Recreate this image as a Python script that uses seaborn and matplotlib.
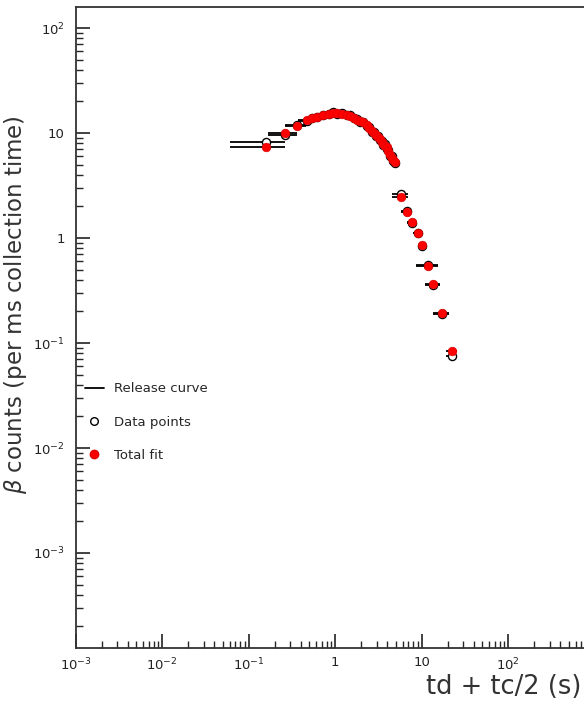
import seaborn as sns
import matplotlib.pyplot as plt
import matplotlib.ticker as mticker
from matplotlib.lines import Line2D
import pandas as pd
import numpy as np

# td + tc/2 (s)
td = [0.16, 0.265, 0.364, 0.467, 0.533, 0.61, 0.73, 0.85, 0.95, 1.05, 1.2, 1.35,
      1.48, 1.65, 1.8, 1.95, 2.11, 2.3, 2.45, 2.64, 2.8, 2.95, 3.1, 3.29, 3.45,
      3.6, 3.75, 3.93, 4.1, 4.3, 4.5, 4.7, 4.9, 5.7, 6.68, 7.76, 8.95, 9.97,
      11.9, 13.6, 17.0, 22.2]
# half width of each collection bin
half_bin = [0.1] * 33 + [1.15, 1.0, 1.05, 1.0, 1.0, 3.3, 2.8, 3.5, 3.0]
# total fit (red dots, also level of release curve)
fit = [7.3, 9.9, 11.7, 13.3, 13.8, 14.3, 14.8, 15.3, 15.6, 15.5, 15.2, 15.0,
       14.6, 14.0, 13.4, 13.0, 12.6, 11.8, 11.2, 10.5, 10.0, 9.5, 9.2, 8.7, 8.2,
       7.9, 7.6, 7.4, 6.7, 6.2, 5.8, 5.5, 5.3, 2.47, 1.78, 1.41, 1.11, 0.86,
       0.54, 0.365, 0.192, 0.083]
# measured data points (open circles)
counts = [8.2, 9.6, 11.9, 13.1, 14.0, 14.1, 15.0, 15.1, 15.8, 15.3, 15.4, 14.8,
          14.8, 13.8, 13.6, 12.8, 12.8, 11.6, 11.4, 10.3, 10.2, 9.3, 9.4, 8.5, 8.4,
          7.7, 7.8, 7.0, 6.9, 6.0, 6.0, 5.4, 5.2, 2.6, 1.8, 1.38, 1.12, 0.83,
          0.55, 0.36, 0.19, 0.075]

df = pd.DataFrame({"td": td, "half": half_bin, "fit": fit, "counts": counts})

sns.set_style("ticks")
plt.rcParams['font.family'] = ['DejaVu Sans']
plt.rcParams['mathtext.fontset'] = 'dejavusans'
plt.rcParams['xtick.direction'] = 'in'
plt.rcParams['ytick.direction'] = 'in'

W, H = 584, 701
fig = plt.figure(figsize=(W / 100, H / 100), dpi=100)
# axes runs a bit past the right edge like the original
x0, x1 = 75.8, 75.8 + 6 * 86.5
y_top, y_bot = 6.7, 648
ax = fig.add_axes([x0 / W, 1 - y_bot / H, (x1 - x0) / W, (y_bot - y_top) / H])

ax.set_xscale('log')
ax.set_yscale('log')

# release curve
ax.hlines(df["fit"], df["td"] - df["half"], df["td"] + df["half"],
          color='black', lw=1.3, zorder=2)
# data points with bin width
ax.errorbar(df["td"], df["counts"], xerr=df["half"], fmt='none',
            ecolor='black', elinewidth=1.3, capsize=0, zorder=3)
sns.scatterplot(data=df, x="td", y="counts", ax=ax, marker='o', s=34,
                facecolor='white', edgecolor='black', linewidth=1.0, zorder=4)
sns.scatterplot(data=df, x="td", y="fit", ax=ax, marker='o', s=38,
                color='#ff0000', edgecolor='#e00000', linewidth=0.5, zorder=5)

ax.set_xlim(1e-3, 1e3)
ax.set_ylim(10 ** (2 - (y_bot - 28) / 105), 10 ** (2 + (28 - y_top) / 105))


def fmt(v, pos):
    e = int(round(np.log10(v)))
    if e == 0:
        return "1"
    if e == 1:
        return "10"
    return r"$10^{%d}$" % e


ax.xaxis.set_major_locator(mticker.FixedLocator([1e-3, 1e-2, 1e-1, 1, 10, 100]))
ax.yaxis.set_major_locator(mticker.FixedLocator([1e-3, 1e-2, 1e-1, 1, 10, 100]))
for axis in (ax.xaxis, ax.yaxis):
    axis.set_minor_locator(mticker.LogLocator(base=10, subs=np.arange(2, 10), numticks=20))
    axis.set_major_formatter(mticker.FuncFormatter(fmt))
    axis.set_minor_formatter(mticker.NullFormatter())

ax.tick_params(axis='x', which='major', direction='in', length=10, width=1.2,
               labelsize=9.5, colors='#222222', pad=6, bottom=True, top=False)
ax.tick_params(axis='y', which='major', direction='in', length=10, width=1.2,
               labelsize=9.5, colors='#222222', pad=8, left=True, right=False)
ax.tick_params(which='minor', direction='in', length=5, width=1.0,
               bottom=True, left=True, top=False, right=False)
for s in ax.spines.values():
    s.set_color('#333333')
    s.set_linewidth(1.3)

ax.set_xlabel("")
ax.set_ylabel("")
fig.text(16 / W, 1 - 305 / H, r"$\beta$ counts (per ms collection time)",
         rotation=90, ha='center', va='center', fontsize=16.5, color='#333333')
fig.text(581 / W, 1 - 687 / H, "td + tc/2 (s)", ha='right', va='center',
         fontsize=18.5, color='#333333')

handles = [
    Line2D([], [], color='black', lw=1.3),
    Line2D([], [], marker='o', ls='none', mfc='white', mec='black', ms=5.5),
    Line2D([], [], marker='o', ls='none', mfc='#ff0000', mec='#e00000', ms=6),
]
ax.legend(handles, ["Release curve", "Data points", "Total fit"],
          loc='upper left', bbox_to_anchor=(-0.005, 0.433), frameon=False,
          fontsize=9.5, labelspacing=1.55, handlelength=1.4, handletextpad=0.8)

fig.savefig("out.png", dpi=100, facecolor='white')
